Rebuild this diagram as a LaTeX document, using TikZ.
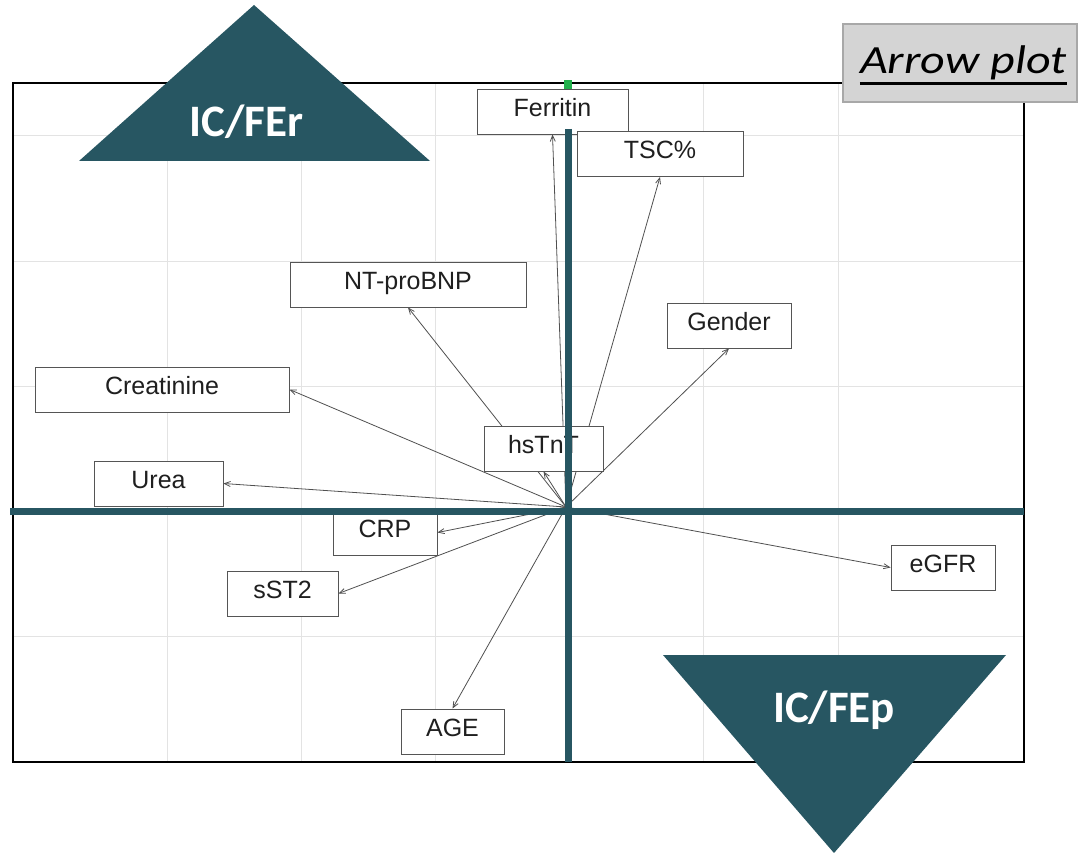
\documentclass[tikz,border=0pt]{standalone}
\usepackage{fontspec}
\setmainfont{Liberation Sans}
\newfontfamily\calibri{Carlito}
\newfontfamily\calibriwide[FakeStretch=1.2]{Carlito}
\usetikzlibrary{arrows.meta}
\definecolor{axisteal}{HTML}{275662}
\definecolor{gridgray}{HTML}{E3E3E3}
\definecolor{boxgray}{HTML}{555555}
\definecolor{arrowgray}{HTML}{505050}
\definecolor{markgreen}{HTML}{22B14C}
\definecolor{tagfill}{HTML}{D4D4D4}
\definecolor{tagedge}{HTML}{A8A8A8}
\pgfdeclarelayer{gridlayer}
\pgfdeclarelayer{veclayer}
\pgfsetlayers{gridlayer,veclayer,main}
\begin{document}
\begin{tikzpicture}[x=1pt,y=-1pt,
  lbl/.style={draw=boxgray, fill=white, line width=0.9pt, minimum height=45pt,
    inner sep=0pt, text height=18pt, text depth=8pt,
    font=\fontsize{25}{25}\selectfont, text=black!88},
  vec/.style={draw=arrowgray, line width=0.8pt, -{Straight Barb[length=6pt,width=5pt]}},
  axisline/.style={draw=axisteal, line width=7pt},
  gridline/.style={draw=gridgray, line width=1pt},
  tri/.style={fill=axisteal, draw=none},
  tritext/.style={text=white, font=\calibri\bfseries\fontsize{45}{45}\selectfont, inner sep=0pt}]

% canvas, grid and plot frame
\useasboundingbox (0,0) rectangle (1081,853);
\begin{pgfonlayer}{gridlayer}
  \fill[white] (0,0) rectangle (1081,853);
  \foreach \gx in {167,301,435,569,703,838}
    \draw[gridline] (\gx,84) -- (\gx,761);
  \foreach \gy in {136,261,386,511,636}
    \draw[gridline] (14,\gy) -- (1023,\gy);
  \draw[black, line width=1.8pt] (13,83) rectangle (1024,762);
\end{pgfonlayer}

% origin of the vectors
\coordinate (o) at (566,507);

% variable labels
\node[lbl, minimum width=151pt] (fer)  at (552.5,111.5) {Ferritin};
\node[lbl, minimum width=166pt] (tsc)  at (660,154)     {TSC\%};
\node[lbl, minimum width=236pt] (ntp)  at (408,284.5)   {NT-proBNP};
\node[lbl, minimum width=124pt] (gen)  at (729,325.5)   {Gender};
\node[lbl, minimum width=254pt] (cre)  at (162,389.5)   {Creatinine};
\node[lbl, minimum width=119pt] (hs)   at (543.5,448.5) {hsTnT};
\node[lbl, minimum width=129pt] (urea) at (158.5,483.5) {Urea};
\node[lbl, minimum width=104pt] (crp)  at (385,532.5)   {CRP};
\node[lbl, minimum width=111pt] (sst)  at (282.5,593.5) {sST2};
\node[lbl, minimum width=104pt] (egfr) at (943,567.5)   {eGFR};
\node[lbl, minimum width=103pt] (age)  at (452.5,731.5) {AGE};

% vectors, kept beneath the labels
\begin{pgfonlayer}{veclayer}
  \draw[vec] (o) -- (fer.south);
  \draw[vec] (o) -- (tsc.south);
  \draw[vec] (o) -- (ntp.south);
  \draw[vec] (o) -- (gen.south);
  \draw[vec] (o) -- (cre.east);
  \draw[vec] (o) -- (hs.south);
  \draw[vec] (o) -- (urea.east);
  \draw[vec] (o) -- (crp.east);
  \draw[vec] (o) -- (sst.east);
  \draw[vec] (o) -- (egfr.west);
  \draw[vec] (o) -- (age.north);
\end{pgfonlayer}

% thick axes
\draw[axisline] (10,511) -- (1024,511);
\draw[axisline] (568.5,129) -- (568.5,762);
\fill[markgreen] (564,80) rectangle (572,89);

% group triangles
\fill[tri] (79,161) -- (430,161) -- (254,5) -- cycle;
\node[tritext, anchor=base] (fer-tag) at (246.5,137) {IC/FEr};
\fill[tri] (663,655) -- (1006,655) -- (834,853) -- cycle;
\node[tritext, anchor=base] (fep-tag) at (834,722) {IC/FEp};

% title tag with a heavy underline
\draw[fill=tagfill, draw=tagedge, line width=1.5pt] (843,24) rectangle (1077,102);
\node[font=\calibriwide\itshape\fontsize{40}{40}\selectfont, inner sep=0pt, anchor=base]
  (title) at (963.5,74) {Arrow plot};
\draw[black, line width=2.4pt] ([yshift=-9.5pt]title.base west) -- ([yshift=-9.5pt]title.base east);
\end{tikzpicture}
\end{document}
